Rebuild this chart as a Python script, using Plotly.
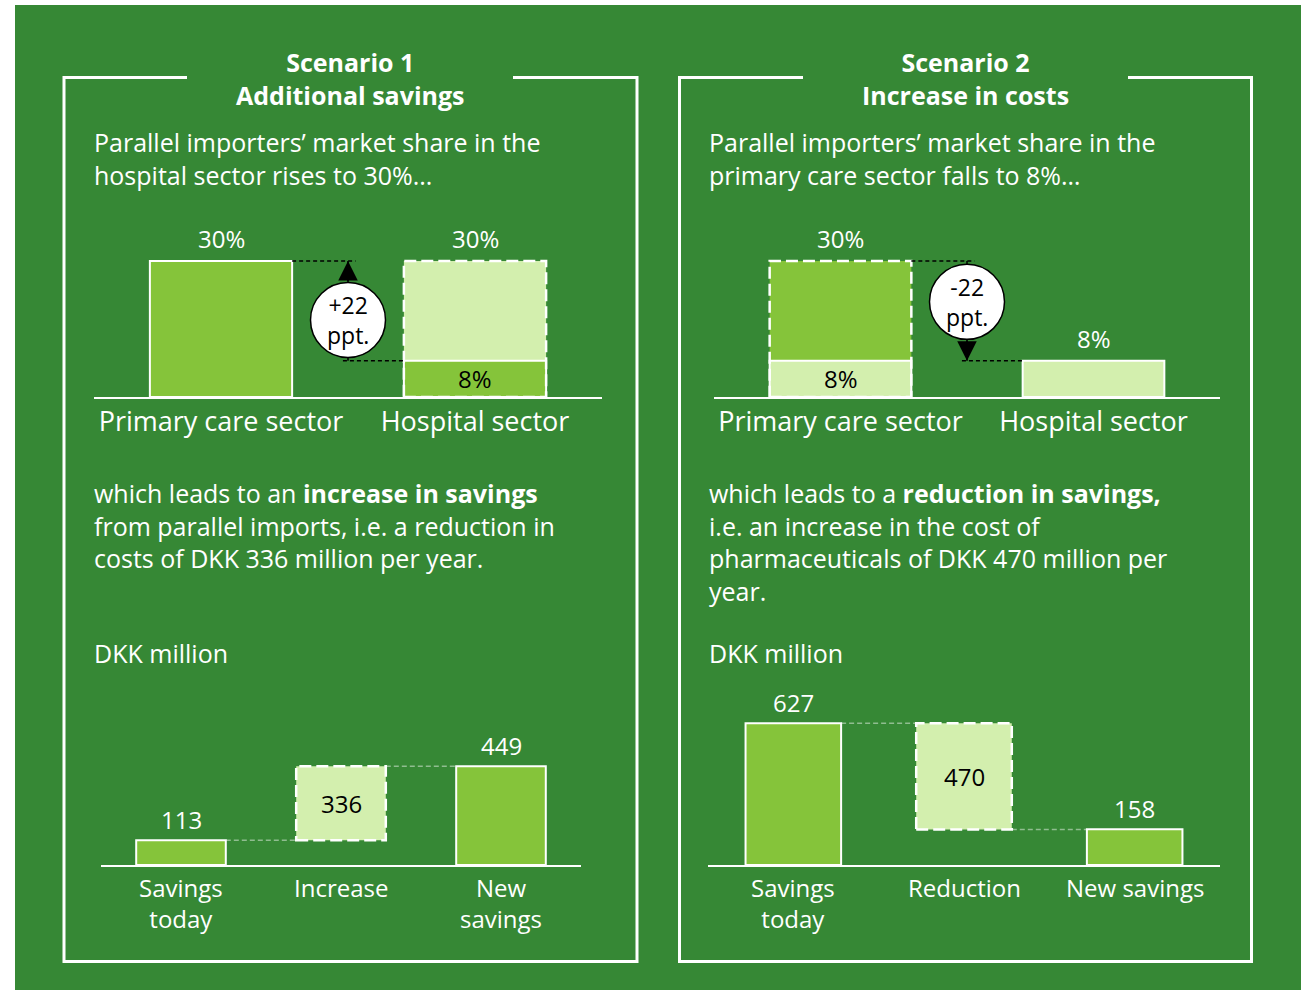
import plotly.graph_objects as go

# --- Data read from the infographic ---
sectors = ["Primary care sector", "Hospital sector"]
s1_share_before = [30, 8]    # scenario 1: hospital share today
s1_share_after = [30, 30]    # scenario 1: hospital share rises to 30%
s2_share_before = [30, 8]
s2_share_after = [8, 8]      # scenario 2: primary care share falls to 8%

s1_steps = ["Savings<br>today", "Increase", "New<br>savings"]
s1_amounts = [113, 336, 449]
s2_steps = ["Savings<br>today", "Reduction", "New savings"]
s2_amounts = [627, -470, 158]

# --- Styling ---
W, H = 1301, 990
FONT = "Open Sans"
BG = "#368835"
BAR = "#85c43a"
PALE = "#d3efae"
WHITE = "white"
BW = 0.56  # bar width in category units


def px(x):
    return x / W


def py(y):
    return 1 - y / H


fig = go.Figure()


def share_chart(n, before, after, changed):
    """Market share chart: one sector moves, the other stays as reference."""
    xa, ya = ("x", "y") if n == 1 else (f"x{n}", f"y{n}")
    other = 1 - changed
    hi = max(before[changed], after[changed])
    lo = min(before[changed], after[changed])
    rising = after[changed] > before[changed]

    colors = [None, None]
    colors[changed] = PALE if rising else BAR
    colors[other] = BAR if rising else PALE
    widths = [2, 2]
    widths[changed] = 0
    heights = [hi, hi]
    heights[other] = after[other]
    fig.add_trace(go.Bar(x=[0, 1], y=heights, width=BW,
                         marker=dict(color=colors, line=dict(color=WHITE, width=widths)),
                         xaxis=xa, yaxis=ya, hoverinfo="skip"))
    fig.add_trace(go.Bar(x=[changed], y=[lo], width=BW,
                         marker=dict(color=BAR if rising else PALE, line=dict(color=WHITE, width=2)),
                         xaxis=xa, yaxis=ya, hoverinfo="skip"))
    fig.add_shape(type="rect", xref=xa, yref=ya, x0=changed - BW / 2, x1=changed + BW / 2, y0=0, y1=hi,
                  line=dict(color=WHITE, width=2.5, dash="12px,5px"), layer="above")

    # black dashed guides
    guide = dict(color="black", width=1.5, dash="4px,3px")
    fig.add_shape(type="line", xref=xa, yref=ya, x0=BW / 2, x1=0.53, y0=hi, y1=hi, line=guide)
    fig.add_shape(type="line", xref=xa, yref=ya, x0=0.48, x1=1 - BW / 2, y0=lo, y1=lo, line=guide)

    # arrow with circled label
    mid = (hi + lo) / 2 + (-2 if rising else 2)
    r = 8.2
    fig.add_trace(go.Scatter(x=[0.5, 0.5], y=[lo, hi], mode="lines", line=dict(color="black", width=1.5),
                             xaxis=xa, yaxis=ya, hoverinfo="skip"))
    fig.add_trace(go.Scatter(x=[0.5], y=[mid], mode="markers",
                             marker=dict(size=75, color=WHITE, line=dict(color="black", width=1.5)),
                             xaxis=xa, yaxis=ya, hoverinfo="skip"))
    head, tail = (hi, mid + r) if rising else (lo, mid - r)
    fig.add_annotation(x=0.5, y=head, ax=0.5, ay=tail, xref=xa, yref=ya, axref=xa, ayref=ya,
                       text="", showarrow=True, arrowhead=2, arrowsize=2.6, arrowwidth=1.5,
                       arrowcolor="black")
    delta = after[changed] - before[changed]
    fig.add_annotation(x=0.5, y=mid, xref=xa, yref=ya, text=f"{delta:+d}<br>ppt.", showarrow=False,
                       font=dict(size=23, color="black"))

    # value labels
    for i in (0, 1):
        top = hi if i == changed else after[i]
        fig.add_annotation(x=i, y=top, xref=xa, yref=ya, text=f"{top}%", showarrow=False,
                           yanchor="bottom", yshift=4, font=dict(size=24, color=WHITE))
    fig.add_annotation(x=changed, y=lo / 2, xref=xa, yref=ya, text=f"{lo}%", showarrow=False,
                       font=dict(size=24, color="black"))


def waterfall_chart(n, amounts, steps):
    xa, ya = f"x{n}", f"y{n}"
    start, step, end = amounts
    fig.add_trace(go.Bar(x=[0, 2], y=[start, end], width=BW,
                         marker=dict(color=BAR, line=dict(color=WHITE, width=2)),
                         xaxis=xa, yaxis=ya, hoverinfo="skip"))
    lo, hi = min(start, start + step), max(start, start + step)
    fig.add_trace(go.Bar(x=[1], y=[hi - lo], base=[lo], width=BW,
                         marker=dict(color=PALE, line=dict(width=0)),
                         xaxis=xa, yaxis=ya, hoverinfo="skip"))
    fig.add_shape(type="rect", xref=xa, yref=ya, x0=1 - BW / 2, x1=1 + BW / 2, y0=lo, y1=hi,
                  line=dict(color=WHITE, width=2.5, dash="12px,5px"), layer="above")
    conn = dict(color="rgba(255,255,255,0.45)", width=1.5, dash="5px,3px")
    fig.add_shape(type="line", xref=xa, yref=ya, x0=BW / 2, x1=1 - BW / 2, y0=start, y1=start, line=conn)
    fig.add_shape(type="line", xref=xa, yref=ya, x0=1 + BW / 2, x1=2 - BW / 2,
                  y0=start + step, y1=start + step, line=conn)
    for i, v in ((0, start), (2, end)):
        fig.add_annotation(x=i, y=v, xref=xa, yref=ya, text=str(v), showarrow=False,
                           yanchor="bottom", yshift=2, font=dict(size=24, color=WHITE))
    fig.add_annotation(x=1, y=(lo + hi) / 2, xref=xa, yref=ya, text=str(abs(step)), showarrow=False,
                       font=dict(size=24, color="black"))
    # category labels below the axis line
    for i, lab in enumerate(steps):
        fig.add_annotation(x=i, y=0, xref=xa, yref=ya, text=lab, showarrow=False,
                           yanchor="top", yshift=-4, font=dict(size=24, color=WHITE))


share_chart(1, s1_share_before, s1_share_after, changed=1)
share_chart(2, s2_share_before, s2_share_after, changed=0)
waterfall_chart(3, s1_amounts, s1_steps)
waterfall_chart(4, s2_amounts, s2_steps)


def xax(x0, x1, n, anchor, labels=None):
    ax = dict(domain=[px(x0), px(x1)], range=[-0.5, n - 0.5], anchor=anchor,
              showline=True, linecolor=WHITE, linewidth=2, showgrid=False, zeroline=False,
              ticks="", fixedrange=True, tickfont=dict(size=27, color=WHITE, family=FONT))
    if labels:
        ax.update(tickvals=list(range(n)), ticktext=labels)
    else:
        ax.update(showticklabels=False)
    return ax


def yax(y_top, y_base, top, anchor):
    return dict(domain=[py(y_base), py(y_top)], range=[0, top], anchor=anchor, visible=False,
                fixedrange=True)


# background and scenario frames
fig.add_shape(type="rect", xref="paper", yref="paper", x0=px(15), x1=1, y0=0, y1=py(5),
              fillcolor=BG, line=dict(width=0), layer="below")


def frame(left, right, gap_l, gap_r, top=77.5, bottom=961.5):
    path = (f"M {px(gap_l)},{py(top)} L {px(left)},{py(top)} L {px(left)},{py(bottom)} "
            f"L {px(right)},{py(bottom)} L {px(right)},{py(top)} L {px(gap_r)},{py(top)}")
    fig.add_shape(type="path", xref="paper", yref="paper", path=path,
                  line=dict(color=WHITE, width=3), layer="below")


frame(64, 637, 187, 513)
frame(679.5, 1251.5, 803, 1128)


def block(x, y_first, rows, size=25, anchor="left", step=32.5):
    # one text element per block; plotly spaces lines at 1.3 x font size
    centre = y_first + (len(rows) - 1) * step / 2
    fig.add_annotation(x=px(x), y=py(centre), xref="paper", yref="paper", text="<br>".join(rows),
                       showarrow=False, xanchor=anchor, yanchor="middle", align=anchor,
                       font=dict(size=size, color=WHITE, family=FONT))


block(350, 62, ["<b>Scenario 1</b>", "<b>Additional savings</b>"], anchor="center")
block(965.5, 62, ["<b>Scenario 2</b>", "<b>Increase in costs</b>"], anchor="center")
block(92, 142, ["Parallel importers’ market share in the", "hospital sector rises to 30%..."])
block(707, 142, ["Parallel importers’ market share in the", "primary care sector falls to 8%…"])
block(92, 493, ["which leads to an <b>increase in savings</b>",
                "from parallel imports, i.e. a reduction in",
                "costs of DKK 336 million per year."])
block(707, 493, ["which leads to a <b>reduction in savings,</b>",
                 "i.e. an increase in the cost of",
                 "pharmaceuticals of DKK 470 million per",
                 "year."])
block(92, 653, ["DKK million"])
block(707, 653, ["DKK million"])

fig.update_layout(
    width=W, height=H, margin=dict(l=0, r=0, t=0, b=0),
    paper_bgcolor=WHITE, plot_bgcolor="rgba(0,0,0,0)",
    showlegend=False, barmode="overlay",
    font=dict(family=FONT, color=WHITE),
    xaxis=xax(94, 602, 2, "y", sectors),
    yaxis=yax(252, 397, 32, "x"),
    xaxis2=xax(714, 1220, 2, "y2", sectors),
    yaxis2=yax(252, 397, 32, "x2"),
    xaxis3=xax(101, 581, 3, "y3"),
    yaxis3=yax(755, 865, 500, "x3"),
    xaxis4=xax(708, 1220, 3, "y4"),
    yaxis4=yax(706.8, 865, 700, "x4"),
)

fig.write_html("out.html", config={"displayModeBar": False},
               post_script="document.body.style.margin='0';")
